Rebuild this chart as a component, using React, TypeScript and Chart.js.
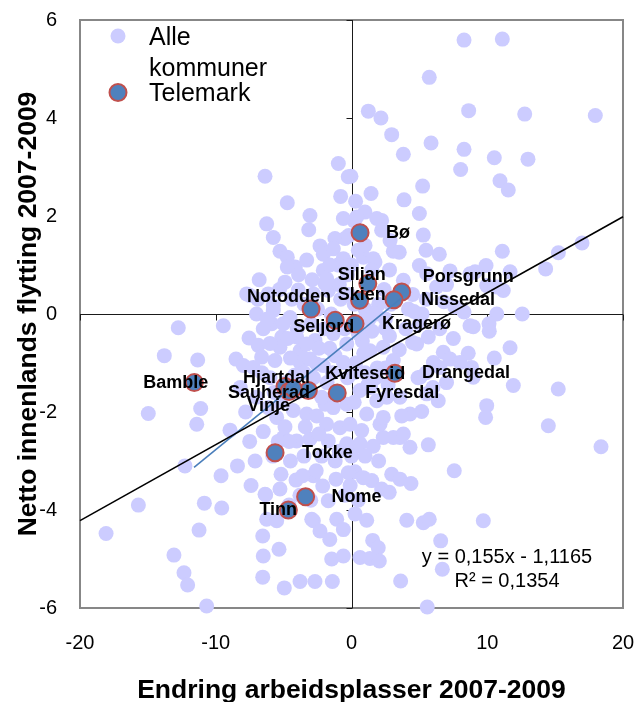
import { useEffect, useRef } from "react";
import { Chart, registerables } from "chart.js";

Chart.register(...registerables);

const FONT = "'Liberation Sans', Arial, Helvetica, sans-serif";

// Axis ranges / ticks
const xMin = -20;
const xMax = 20;
const xStep = 10;
const yMin = -6;
const yMax = 6;
const yStep = 2;

const xTitle = "Endring arbeidsplasser 2007-2009";
const yTitle = "Netto innenlands flytting 2007-2009";

const legendAlle = ["Alle", "kommuner"];
const legendTelemark = "Telemark";

const equationLines = ["y = 0,155x - 1,1165", "R² = 0,1354"];

// Trend line, all municipalities
const trendX = [-20, 20];
const trendY = [-4.2165, 1.9835];

// Trend line, Telemark
const telemarkTrendX = [-11.6, 3.7];
const telemarkTrendY = [-3.13, 0.33];

// Telemark municipalities
const telemarkNavn = [
  "Bø", "Siljan", "Skien", "Porsgrunn", "Nissedal", "Notodden", "Seljord", "Kragerø", "Bamble",
  "Hjartdal", "Sauherad", "Vinje", "Kviteseid", "Fyresdal", "Drangedal", "Tokke", "Nome", "Tinn",
];
const telemarkX = [0.63, 1.2, 0.6, 3.7, 3.13, -2.98, -1.2, 0.26, -11.58, -4.9, -4.6, -3.18, -4.3, -1.05, 3.2, -5.63, -3.38, -4.65];
const telemarkY = [1.66, 0.62, 0.28, 0.45, 0.29, 0.1, -0.13, -0.2, -1.4, -1.48, -1.58, -1.56, -1.52, -1.61, -1.21, -2.83, -3.73, -4.0];

// label placement (style): offset from point centre to label left edge / vertical centre, px
const labelDx = [26, -30, -22, 21, 27, -64, -42, 27, -51, -42, -61, -61, 32, 28, 27, 27, 26, -29];
const labelDy = [0, -9, -5, -15, 0, -12, 7, 0, 0, -8, 2, 16, -14, 0, 0, 0, 0, 0];

// All municipalities [endring arbeidsplasser, netto innenlands flytting]
const alleKommuner: [number, number][] = [
  [8.29, 5.59], [11.11, 5.61], [5.73, 4.83], [1.24, 4.14], [2.17, 4.0], [8.63, 4.15], [12.76, 4.08], [17.96, 4.05],
  [2.96, 3.66], [5.86, 3.49], [3.82, 3.26], [8.29, 3.36], [10.52, 3.19], [13.0, 3.16], [8.04, 2.95], [-0.04, 2.81],
  [5.24, 2.61], [10.94, 2.72], [11.55, 2.53], [1.44, 2.46], [3.87, 2.33], [5.0, 2.05], [0.99, 2.08], [2.22, 1.91],
  [5.29, 1.61], [3.08, 1.28], [3.52, 1.26], [5.49, 1.3], [6.47, 1.22], [11.11, 1.28], [15.24, 1.25], [16.98, 1.45],
  [5.0, 0.99], [7.26, 0.88], [9.91, 0.99], [9.1, 0.86], [11.68, 0.86], [14.3, 0.92], [11.18, 0.48], [9.96, 0.58],
  [8.29, 0.04], [10.7, 0.0], [12.58, 0.0], [6.27, 0.55],
  [-0.97, 3.07], [-6.37, 2.81], [-0.24, 2.8], [-0.8, 2.4], [-4.73, 2.27], [-3.06, 2.01], [-0.6, 1.95], [-6.25, 1.84],
  [-3.15, 1.72], [-5.76, 1.56], [-1.22, 1.54], [-0.48, 1.54], [-2.32, 1.39], [-5.27, 1.28], [-2.08, 1.22], [-4.73, 1.16],
  [-1.34, 1.33], [-4.14, 0.96], [-4.73, 0.96], [-2.08, 0.89], [-0.6, 1.13], [-7.48, 0.38], [-6.13, 0.41], [-3.92, 0.49],
  [-1.95, 0.62], [-5.76, 0.17], [-1.83, 0.72], [-7.72, 0.41], [-2.81, 0.41], [-1.7, 0.48],
  [1.86, 1.95], [0.87, 1.16], [1.73, 1.06], [2.22, 1.71], [2.84, 1.5], [1.6, 1.13], [0.3, 2.3], [0.2, 1.9],
  [-0.2, 1.6], [0.5, 1.3], [1.0, 1.4], [-1.0, 1.0], [0.0, 1.0], [1.5, 0.9], [-0.3, 0.8],
  [0.38, 1.98], [3.82, 0.69], [5.54, 0.82], [8.73, 0.82], [10.7, 0.55],
  [4.5, 0.4], [5.5, 0.3], [6.8, 0.25], [7.6, 0.15], [4.2, 0.1], [5.2, 0.0], [7.0, 0.6], [2.4, 0.5], [2.0, 0.2], [2.8, 0.9],
  [10.13, -0.2], [10.15, -0.35], [8.97, -0.26], [11.68, -0.69], [10.52, -0.9], [8.6, -0.8], [6.76, -0.78], [7.26, -0.92],
  [5.66, -0.47], [4.5, -0.58], [3.52, -0.73], [6.03, -0.99], [6.52, -1.09], [7.99, -0.99], [8.85, -1.09], [8.97, -1.29],
  [11.92, -1.46], [15.23, -1.53], [9.96, -1.87], [9.88, -2.11], [6.39, -1.77], [14.5, -2.28], [18.38, -2.71], [5.17, -1.99],
  [4.31, -2.04], [3.7, -2.08], [4.31, -2.72], [5.66, -2.67], [3.57, -2.52], [2.34, -2.52], [0.75, -2.38], [2.1, -2.25],
  [0.5, -2.69], [7.57, -3.2], [2.96, -3.27], [3.57, -3.37], [4.38, -3.46], [1.49, -3.4], [2.22, -3.57], [2.78, -3.64],
  [0.26, -3.22], [0.87, -3.34], [1.12, -4.21], [4.07, -4.21], [5.29, -4.26], [5.73, -4.19], [9.71, -4.22], [0.26, -4.08],
  [1.56, -4.62], [1.97, -4.77], [0.63, -4.97], [1.36, -4.99], [2.05, -5.04], [6.57, -4.63], [6.69, -5.21], [3.62, -5.45], [5.58, -5.98],
  [8.73, -0.24], [4.8, -0.61], [4.0, -0.3], [5.0, -0.2], [6.5, -0.3], [7.5, -0.5], [4.6, 0.05],
  [4.9, -1.3], [6.0, -1.5], [7.0, -1.4], [5.5, -1.2],
  [2.34, -0.68], [1.36, -0.75], [3.08, -0.95], [5.05, -1.29], [5.54, -1.63], [3.57, -1.7], [1.86, -1.77], [0.63, -1.56],
  [2.34, -2.11], [1.12, -2.04], [0.63, -2.65], [3.08, -2.52], [3.82, -2.45],
  [0.8, -0.55], [1.9, -1.1], [2.7, -1.45], [0.2, -1.2], [1.2, -1.45], [2.5, -0.3],
  [-12.76, -0.28], [-9.44, -0.24], [-13.79, -0.85], [-11.33, -0.94], [-8.51, -0.92], [-7.55, -0.49], [-6.87, -0.64],
  [-14.97, -2.03], [-11.11, -1.93], [-11.4, -2.25], [-8.95, -2.37], [-12.27, -3.1], [-9.61, -3.3], [-15.7, -3.9],
  [-10.84, -3.86], [-9.56, -3.96], [-18.08, -4.48], [-11.23, -4.41], [-13.08, -4.92], [-12.34, -5.28], [-12.07, -5.53], [-10.67, -5.96],
  [-7.1, -3.0], [-5.19, -3.27], [-6.32, -3.69], [-6.54, -4.53], [-5.34, -4.8], [-6.5, -4.94], [-6.54, -5.37], [-4.95, -5.59],
  [-3.79, -5.46], [-2.69, -5.46], [-1.41, -5.46], [-1.46, -5.0], [-0.6, -4.94], [-2.81, -4.22], [-2.32, -4.43], [-1.09, -4.19],
  [-4.09, -3.39], [-2.81, -3.3], [-2.12, -3.51], [-1.14, -3.37], [-0.24, -3.24], [-6.37, -3.68], [-5.27, -3.57], [-6.25, -4.19],
  [-5.51, -4.22], [-2.93, -4.19], [-1.71, -3.81], [-7.97, -1.05], [-7.23, -1.09], [-6.62, -0.88], [-5.76, 0.07], [-5.88, -0.2],
  [-5.14, -0.47], [-5.27, -0.68], [-5.64, -0.95], [-4.04, -0.47], [-3.79, -0.75], [-4.53, -0.07], [-3.79, -0.99], [-3.06, -0.92],
  [-2.56, -1.02], [-2.08, -1.05], [-1.22, -0.85], [-0.6, -0.99], [-5.02, -0.2], [-2.69, -0.54], [-3.3, -0.61], [-1.34, -0.4],
  [-0.35, -0.61], [-6.13, -1.91], [-5.51, -2.11], [-4.29, -1.97], [-3.3, -2.04], [-2.56, -2.08], [-1.94, -1.84], [-1.34, -1.91],
  [-0.35, -1.84], [-1.83, -2.25], [-0.85, -2.32], [-0.11, -2.25], [-5.02, -2.52], [-4.04, -2.59], [-3.06, -2.55], [-1.71, -2.59], [-0.35, -2.65],
  [-3.5, 0.2], [-2.5, 0.1], [-1.5, 0.0], [-0.8, 0.3], [0.2, 0.2], [1.0, 0.1], [1.8, 0.0], [2.5, -0.1], [-4.0, -0.3], [-3.0, -0.2],
  [-2.0, -0.3], [-0.5, -0.3], [0.5, -0.4], [1.5, -0.35], [2.8, -0.45], [-4.5, -0.9], [-3.5, -1.2], [-2.8, -1.3], [-1.8, -1.4],
  [-0.3, -1.3], [0.3, -1.0], [1.0, -1.2], [1.8, -1.3], [2.5, -1.1], [-4.8, -1.4], [-6.0, -1.3], [-7.0, -1.7], [-6.5, -2.4],
  [-7.5, -2.6], [-5.8, -2.9], [-4.5, -3.0], [-3.5, -2.9], [-2.2, -2.9], [-1.2, -3.0], [0.0, -2.9], [1.0, -2.9], [2.0, -3.0],
  [-3.8, -3.7], [-4.6, -3.9], [-3.0, -3.8], [-0.5, -3.7], [0.5, -3.8], [-7.8, -2.0], [-8.2, -1.5], [-7.0, 0.0], [-6.5, -0.3],
  [-2.2, -1.7], [-1.0, -1.6], [0.2, -1.8], [1.4, -1.5], [2.6, -1.7], [-4.0, -1.6], [-5.2, -1.8], [-6.6, -1.2],
  [-3.9, 0.8], [-2.9, 0.7], [-0.9, 0.6], [-4.4, 0.3], [-6.8, 0.7], [-5.3, 0.5], [-1.1, -0.1], [0.9, -0.8], [-2.4, -0.7],
  [-4.7, -0.5], [-1.6, -0.7], [-6.0, -0.6], [-0.9, -2.8], [-2.6, -3.2], [-3.6, -3.3], [1.6, -2.7], [-3.4, -2.3], [-4.9, -2.3],
  [-5.7, -1.6], [-8.4, -3.1], [-7.4, -3.5], [-0.1, -3.5],
  [-6.9, 0.3], [-4.9, 0.65], [-3.3, 1.1], [-1.6, 1.0], [-6.2, -0.1], [-4.2, -1.25], [-2.4, -2.45], [-1.4, -1.2],
  [0.6, -0.15], [1.3, -0.1], [2.9, 0.2], [-0.2, 0.4], [-5.4, -2.6], [-4.6, -2.6], [-1.6, -4.6], [-0.6, -4.4],
];

const LAVENDER = "#CCCCFF";
const TM_FILL = "#4F81BD";
const TM_BORDER = "#C0504D";

const decorPlugin = {
  id: "decor",
  beforeDatasetsDraw(chart: any) {
    const { ctx, chartArea: a, scales } = chart;
    const xs = scales.x;
    const ys = scales.y;
    ctx.save();
    // plot frame
    ctx.strokeStyle = "#878787";
    ctx.lineWidth = 2;
    ctx.strokeRect(a.left, a.top, a.right - a.left, a.bottom - a.top);
    // crossing axes at 0
    const x0 = Math.round(xs.getPixelForValue(0)) + 0.5;
    const y0 = Math.round(ys.getPixelForValue(0)) + 0.5;
    ctx.strokeStyle = "#1a1a1a";
    ctx.lineWidth = 1;
    ctx.beginPath();
    ctx.moveTo(x0, a.top);
    ctx.lineTo(x0, a.bottom);
    ctx.moveTo(a.left, y0);
    ctx.lineTo(a.right, y0);
    for (const t of ys.ticks) {
      const py = Math.round(ys.getPixelForValue(t.value)) + 0.5;
      ctx.moveTo(x0 - 6, py);
      ctx.lineTo(x0, py);
    }
    for (const t of xs.ticks) {
      const px = Math.round(xs.getPixelForValue(t.value)) + 0.5;
      ctx.moveTo(px, y0);
      ctx.lineTo(px, y0 + 6);
    }
    ctx.stroke();
    ctx.restore();
  },
  afterDatasetsDraw(chart: any) {
    const { ctx, scales } = chart;
    const xs = scales.x;
    const ys = scales.y;
    ctx.save();
    // Telemark labels
    ctx.fillStyle = "#000";
    ctx.font = `bold 18px ${FONT}`;
    ctx.textAlign = "left";
    ctx.textBaseline = "middle";
    telemarkNavn.forEach((navn, i) => {
      const px = xs.getPixelForValue(telemarkX[i]);
      const py = ys.getPixelForValue(telemarkY[i]);
      ctx.fillText(navn, px + labelDx[i], py + labelDy[i]);
    });

    // Legend
    ctx.beginPath();
    ctx.arc(118, 36, 7.5, 0, Math.PI * 2);
    ctx.fillStyle = LAVENDER;
    ctx.fill();
    ctx.beginPath();
    ctx.arc(118, 92.5, 8.5, 0, Math.PI * 2);
    ctx.fillStyle = TM_FILL;
    ctx.fill();
    ctx.lineWidth = 2;
    ctx.strokeStyle = TM_BORDER;
    ctx.stroke();
    ctx.fillStyle = "#000";
    ctx.font = `25px ${FONT}`;
    ctx.textBaseline = "alphabetic";
    ctx.fillText(legendAlle[0], 149, 45);
    ctx.fillText(legendAlle[1], 149, 76);
    ctx.fillText(legendTelemark, 149, 101);

    // Equation
    ctx.font = `20px ${FONT}`;
    ctx.textAlign = "center";
    ctx.fillText(equationLines[0], 507, 563);
    ctx.fillText(equationLines[1], 507, 587);
    ctx.restore();
  },
};

export default function App() {
  const ref = useRef<HTMLCanvasElement>(null);
  useEffect(() => {
    const canvas = ref.current;
    if (!canvas) return;
    Chart.defaults.font.family = FONT;
    const chart = new Chart(canvas, {
      type: "scatter",
      data: {
        datasets: [
          {
            label: "Lineær (Alle kommuner)",
            data: trendX.map((x, i) => ({ x, y: trendY[i] })),
            showLine: true,
            borderColor: "#000000",
            borderWidth: 1.6,
            pointRadius: 0,
            order: 0,
            clip: false,
          } as any,
          {
            label: "Lineær (Telemark)",
            data: telemarkTrendX.map((x, i) => ({ x, y: telemarkTrendY[i] })),
            showLine: true,
            borderColor: "#4A7EBB",
            borderWidth: 1.6,
            pointRadius: 0,
            order: 1,
            clip: false,
          } as any,
          {
            label: "Telemark",
            data: telemarkX.map((x, i) => ({ x, y: telemarkY[i] })),
            backgroundColor: TM_FILL,
            borderColor: TM_BORDER,
            borderWidth: 2,
            pointRadius: 8.5,
            order: 2,
            clip: false,
          } as any,
          {
            label: "Alle kommuner",
            data: alleKommuner.map(([x, y]) => ({ x, y })),
            backgroundColor: LAVENDER,
            borderWidth: 0,
            pointRadius: 7.5,
            order: 3,
            clip: false,
          } as any,
        ],
      },
      options: {
        animation: false,
        responsive: false,
        devicePixelRatio: 1,
        locale: "en-US",
        events: [],
        layout: { padding: { top: 20, right: 13, left: 0, bottom: 0 } },
        plugins: {
          legend: { display: false },
          tooltip: { enabled: false },
        },
        scales: {
          x: {
            type: "linear",
            min: xMin,
            max: xMax,
            grid: { display: false, drawTicks: false },
            border: { display: false },
            ticks: {
              stepSize: xStep,
              color: "#000",
              font: { size: 20, family: FONT },
              padding: 23,
              maxRotation: 0,
            },
            title: {
              display: true,
              text: xTitle,
              color: "#000",
              font: { size: 26.5, weight: "bold", family: FONT, lineHeight: 0.85 },
              padding: { top: 0, bottom: 0 },
            },
            afterFit(scale: any) {
              scale.height = 94;
              scale.paddingLeft = 0;
              scale.paddingRight = 0;
            },
          },
          y: {
            type: "linear",
            min: yMin,
            max: yMax,
            grid: { display: false, drawTicks: false },
            border: { display: false },
            ticks: {
              stepSize: yStep,
              color: "#000",
              font: { size: 20, family: FONT },
              padding: 23,
            },
            title: {
              display: true,
              text: yTitle,
              color: "#000",
              font: { size: 26.5, weight: "bold", family: FONT, lineHeight: 1 },
              padding: { top: 15, bottom: 0 },
            },
            afterFit(scale: any) {
              scale.width = 80;
              scale.paddingTop = 0;
              scale.paddingBottom = 0;
            },
          },
        },
      } as any,
      plugins: [decorPlugin],
    });
    return () => chart.destroy();
  }, []);
  return (
    <div style={{ position: "absolute", left: 0, top: 0, width: 636, height: 702, background: "#fff" }}>
      <canvas ref={ref} width={636} height={702} style={{ display: "block" }} />
    </div>
  );
}
